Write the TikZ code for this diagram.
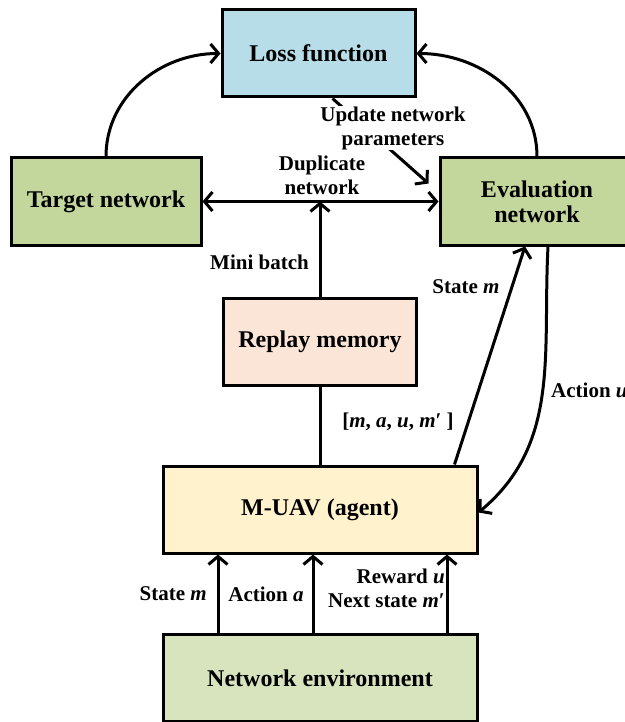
\documentclass[tikz,border=0pt]{standalone}
\usepackage{fontspec}
\setmainfont{Liberation Serif}
\usetikzlibrary{arrows.meta, positioning}

\definecolor{lossblue}{HTML}{B7DDE8}
\definecolor{netgreen}{HTML}{C3D69B}
\definecolor{envgreen}{HTML}{D7E4BD}
\definecolor{replaypeach}{HTML}{FBE5D6}
\definecolor{agentyellow}{HTML}{FFF2CC}

\begin{document}
\begin{tikzpicture}[x=1pt, y=-1pt,
  box/.style={rectangle, draw=black, line width=3pt, minimum height=87pt,
              inner sep=2pt, align=center, font=\fontsize{24}{25}\selectfont\bfseries},
  arr/.style={line width=3pt, -{Straight Barb[length=8pt,width=19pt]}},
  dblarr/.style={line width=3pt, {Straight Barb[length=8pt,width=19pt]}-{Straight Barb[length=8pt,width=19pt]}},
  lbl/.style={inner sep=1pt, align=center, font=\fontsize{21}{24}\selectfont\bfseries}
]
  \useasboundingbox (0,0) rectangle (624,722);

  % Boxes
  \node[box, fill=lossblue, minimum width=193pt]    (loss)   at (318.5,53.5) {Loss function};
  \node[box, fill=netgreen, minimum width=190pt]    (target) at (106,201.5)  {Target network};
  \node[box, fill=netgreen, minimum width=194pt]    (eval)   at (537,201.5)  {Evaluation\\network};
  \node[box, fill=replaypeach, minimum width=193pt] (replay) at (320,341.5)  {Replay memory};
  \node[box, fill=agentyellow, minimum width=314pt] (muav)   at (320,509.5)  {M-UAV (agent)};
  \node[box, fill=envgreen, minimum width=314pt]    (env)    at (320,678)    {Network environment};

  % Loss function inputs
  \draw[arr] (target.north) to[out=90, in=180] (loss.west);
  \draw[arr] (eval.north) to[out=90, in=0] (loss.east);

  % Network update
  \coordinate (upd) at ([shift={(-10,-18)}]eval.west);
  \draw[arr] ([xshift=14pt]loss.south) -- (upd);
  \node[lbl, fill=white, inner sep=0pt] (updlbl) at (393,128) {Update network\\parameters};

  % Duplicate and mini batch
  \coordinate (dup) at (replay.north |- target.east);
  \draw[dblarr] (target.east) -- (eval.west);
  \draw[arr] (replay.north) -- (dup);
  \node[lbl] (duplbl) at (322,175) {Duplicate\\network};
  \node[lbl, anchor=east] (minilbl) at (310,262) {Mini batch};

  % Agent and replay memory
  \draw[line width=3pt] (replay.south) -- (muav.north);
  \node[lbl] (tuplbl) at (398,422)
    {[\textit{m}, \textit{a}, \textit{u}, \textit{m}′ ]};

  % Agent and evaluation network
  \draw[arr] ([xshift=-24pt]muav.north east) -- ([xshift=-12pt]eval.south);
  \draw[arr] ([xshift=11pt]eval.south) to[out=-93, in=40] ([yshift=-3pt]muav.east);
  \node[lbl] (statelbl) at (466,287) {State \textit{m}};
  \node[lbl, anchor=west] (actlbl) at (550,390) {Action \textit{u}};

  % Environment to agent
  \foreach \dx in {-102,-7,127}
    \draw[arr] ([xshift=\dx pt]env.north) -- ([xshift=\dx pt]muav.south);
  \node[lbl, anchor=east] (envstate) at (208,594) {State \textit{m}};
  \node[lbl] (envact) at (266,594) {Action \textit{a}};
  \node[lbl, anchor=east, align=right] (envrew) at (446,588) {Reward \textit{u}\\Next state \textit{m}′};
\end{tikzpicture}
\end{document}
